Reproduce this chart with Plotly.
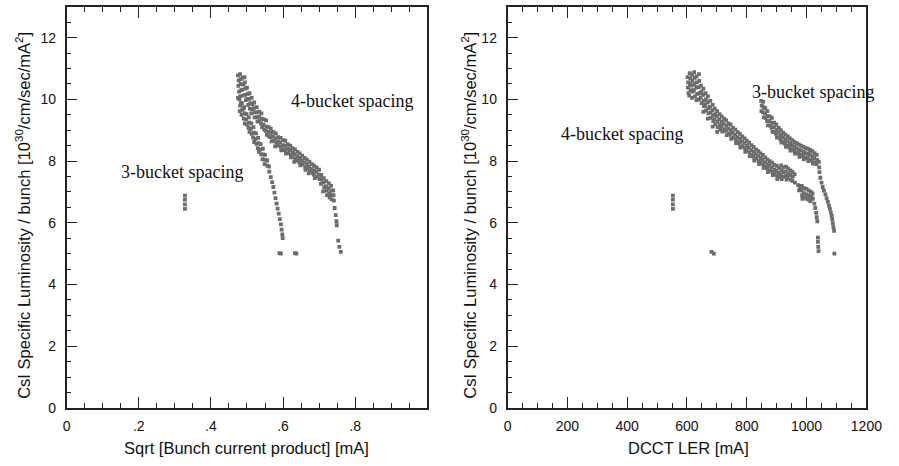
import plotly.graph_objects as go

# ---- left panel: specific luminosity vs sqrt of bunch current product ----
# 4-bucket spacing, upper branch (one line per x column)
lu_x = [0.475, 0.477, 0.476, 0.478, 0.475,
        0.481, 0.483, 0.482, 0.484, 0.481, 0.483,
        0.488, 0.490, 0.487, 0.489, 0.491,
        0.494, 0.496, 0.495, 0.497, 0.493,
        0.500, 0.502, 0.501, 0.503,
        0.507, 0.506, 0.509, 0.508,
        0.513, 0.515, 0.514, 0.512,
        0.520, 0.519, 0.522, 0.521,
        0.527, 0.526, 0.528, 0.529,
        0.534, 0.533, 0.535,
        0.540, 0.541, 0.539, 0.542,
        0.547, 0.546, 0.548,
        0.553, 0.554, 0.552, 0.555,
        0.560, 0.559, 0.561,
        0.566, 0.567, 0.565, 0.568,
        0.573, 0.572, 0.574,
        0.580, 0.579, 0.581, 0.578,
        0.586, 0.587, 0.585,
        0.593, 0.592, 0.594, 0.595,
        0.600, 0.599, 0.601,
        0.606, 0.607, 0.605, 0.608,
        0.613, 0.612, 0.614,
        0.620, 0.619, 0.621, 0.622,
        0.626, 0.627, 0.625,
        0.633, 0.632, 0.634, 0.631,
        0.640, 0.639, 0.641,
        0.646, 0.647, 0.645, 0.648,
        0.653, 0.652, 0.654,
        0.660, 0.659, 0.661, 0.662,
        0.666, 0.667, 0.665,
        0.673, 0.672, 0.674, 0.671,
        0.680, 0.679, 0.681,
        0.686, 0.687, 0.685, 0.688,
        0.693, 0.692, 0.694,
        0.700, 0.699, 0.701,
        0.706, 0.707, 0.705,
        0.713, 0.712, 0.714, 0.711,
        0.720, 0.719, 0.721, 0.722,
        0.727, 0.726, 0.728, 0.729,
        0.733, 0.734, 0.732, 0.735,
        0.739, 0.740, 0.741,
        0.743, 0.746, 0.748, 0.749, 0.753, 0.756, 0.760]
lu_y = [10.78, 10.62, 10.44, 10.25, 10.05,
        10.82, 10.66, 10.50, 10.30, 10.10, 9.88,
        10.70, 10.48, 10.32, 10.12, 9.70,
        10.55, 10.35, 10.15, 9.98, 10.72,
        10.38, 10.18, 10.02, 9.82,
        10.20, 10.02, 9.88, 9.70,
        10.05, 9.85, 9.68, 9.55,
        9.90, 9.72, 9.58, 9.42,
        9.75, 9.58, 9.42, 9.28,
        9.60, 9.44, 9.30,
        9.55, 9.38, 9.22, 9.10,
        9.35, 9.18, 9.02,
        9.32, 9.12, 8.98, 8.85,
        9.10, 8.95, 8.80,
        9.05, 8.92, 8.78, 8.64,
        8.95, 8.80, 8.66,
        8.90, 8.74, 8.60, 8.48,
        8.78, 8.64, 8.50,
        8.75, 8.60, 8.46, 8.35,
        8.68, 8.52, 8.38,
        8.66, 8.50, 8.36, 8.24,
        8.55, 8.40, 8.26,
        8.50, 8.36, 8.22, 8.12,
        8.42, 8.28, 8.14,
        8.38, 8.22, 8.08, 7.98,
        8.30, 8.15, 8.02,
        8.25, 8.10, 7.96, 7.86,
        8.18, 8.02, 7.90,
        8.10, 7.96, 7.82, 7.72,
        8.05, 7.90, 7.76,
        7.98, 7.82, 7.70, 7.60,
        7.90, 7.75, 7.62,
        7.85, 7.70, 7.56, 7.45,
        7.80, 7.65, 7.50,
        7.72, 7.56, 7.42,
        7.55, 7.40, 7.26,
        7.45, 7.30, 7.15, 7.02,
        7.35, 7.18, 7.04, 6.90,
        7.28, 7.12, 6.96, 6.82,
        7.20, 7.04, 6.90, 6.76,
        7.05, 6.90, 6.72,
        6.48, 6.25, 6.05, 5.92, 5.42, 5.22, 5.06]

# lower, steeper branch
ll_x = [0.479, 0.481, 0.480,
        0.486, 0.487, 0.485,
        0.492, 0.493, 0.491, 0.494,
        0.499, 0.498, 0.500,
        0.505, 0.506, 0.504, 0.507,
        0.512, 0.511, 0.513,
        0.518, 0.519, 0.517, 0.520,
        0.525, 0.524, 0.526,
        0.531, 0.532, 0.530, 0.533,
        0.538, 0.537, 0.539,
        0.544, 0.545, 0.543,
        0.550, 0.551, 0.549,
        0.556, 0.557,
        0.561, 0.562,
        0.566, 0.570, 0.573, 0.576, 0.579, 0.582, 0.585, 0.588, 0.591, 0.594,
        0.596, 0.598, 0.599,
        0.590, 0.594, 0.633, 0.637]
ll_y = [10.00, 9.80, 9.62,
        9.88, 9.66, 9.50,
        9.75, 9.55, 9.38, 9.22,
        9.52, 9.35, 9.18,
        9.42, 9.25, 9.08, 8.95,
        9.22, 9.05, 8.88,
        9.10, 8.92, 8.76, 8.62,
        8.90, 8.72, 8.56,
        8.75, 8.58, 8.42, 8.30,
        8.55, 8.38, 8.22,
        8.40, 8.22, 8.06,
        8.20, 8.04, 7.90,
        8.02, 7.85,
        7.82, 7.66,
        7.48, 7.32, 7.16, 6.98, 6.80, 6.62, 6.46, 6.30, 6.12, 5.95,
        5.78, 5.62, 5.50,
        5.02, 5.00, 5.02, 5.00]

# 3-bucket spacing points
l3_x = [0.328, 0.328, 0.328, 0.328]
l3_y = [6.45, 6.60, 6.75, 6.88]

# ---- right panel: specific luminosity vs DCCT LER current ----
# 4-bucket spacing
r4_x = [602, 604, 603, 605,
        609, 611, 610, 612, 608,
        617, 618, 616, 619, 617,
        624, 626, 625, 623, 627,
        632, 633, 631, 634, 632,
        640, 641, 639, 642, 640,
        647, 648, 646, 649,
        655, 654, 656, 657, 655,
        662, 663, 661, 664,
        670, 669, 671, 672, 670,
        678, 677, 679, 680,
        686, 685, 687, 688, 686,
        693, 694, 692, 695,
        701, 700, 702, 703, 701,
        709, 708, 710, 711,
        716, 717, 715, 718,
        724, 723, 725,
        731, 732, 730, 733,
        739, 738, 740,
        746, 747, 745, 748,
        754, 753, 755,
        762, 761, 763, 764,
        770, 769, 771,
        777, 778, 776, 779,
        785, 784, 786,
        793, 792, 794, 795,
        800, 801, 799,
        808, 807, 809, 810,
        816, 815, 817,
        823, 824, 822, 825,
        831, 830, 832,
        839, 838, 840, 841,
        846, 847, 845,
        854, 853, 855, 856,
        862, 861, 863,
        869, 870, 868, 871,
        877, 876, 878,
        885, 884, 886, 887,
        892, 893, 891,
        900, 899, 901, 902,
        908, 907, 909,
        915, 916, 914, 917,
        923, 922, 924,
        931, 930, 932, 933,
        938, 939, 937,
        946, 945, 947,
        953, 954, 952,
        960, 961,
        972, 975, 978,
        984, 983, 985, 986,
        992, 991, 993,
        999, 1000, 1001,
        1007, 1006, 1008,
        1014, 1015, 1013,
        1020, 1021,
        1026, 1029, 1032, 1034, 1036, 1038, 1038, 1039, 1040]
r4_y = [10.72, 10.55, 10.38, 10.20,
        10.85, 10.68, 10.50, 10.30, 10.12,
        10.80, 10.62, 10.45, 10.25, 10.05,
        10.88, 10.70, 10.50, 10.30, 10.10,
        10.75, 10.55, 10.38, 10.18, 9.98,
        10.82, 10.60, 10.40, 10.20, 10.00,
        10.45, 10.25, 10.06, 9.88,
        10.35, 10.15, 9.95, 9.78, 9.60,
        10.20, 10.00, 9.82, 9.64,
        10.10, 9.90, 9.72, 9.55, 9.38,
        9.95, 9.76, 9.58, 9.40,
        9.82, 9.65, 9.48, 9.30, 9.12,
        9.70, 9.52, 9.35, 9.18,
        9.62, 9.45, 9.28, 9.10, 8.95,
        9.52, 9.35, 9.18, 9.02,
        9.45, 9.28, 9.12, 8.96,
        9.38, 9.20, 9.04,
        9.32, 9.15, 8.98, 8.84,
        9.22, 9.05, 8.90,
        9.18, 9.00, 8.85, 8.72,
        9.08, 8.92, 8.76,
        9.02, 8.86, 8.70, 8.58,
        8.94, 8.78, 8.62,
        8.88, 8.72, 8.56, 8.44,
        8.80, 8.64, 8.48,
        8.74, 8.58, 8.42, 8.30,
        8.66, 8.50, 8.35,
        8.60, 8.44, 8.28, 8.16,
        8.52, 8.36, 8.20,
        8.46, 8.30, 8.14, 8.02,
        8.38, 8.22, 8.08,
        8.32, 8.16, 8.00, 7.90,
        8.25, 8.10, 7.95,
        8.20, 8.04, 7.90, 7.78,
        8.12, 7.96, 7.82,
        8.05, 7.90, 7.76, 7.64,
        8.00, 7.85, 7.70,
        7.95, 7.80, 7.65, 7.55,
        7.88, 7.72, 7.58,
        7.85, 7.68, 7.54, 7.42,
        7.78, 7.62, 7.48,
        7.86, 7.70, 7.55, 7.42,
        7.80, 7.64, 7.50,
        7.82, 7.66, 7.52, 7.40,
        7.76, 7.60, 7.46,
        7.70, 7.55, 7.40,
        7.65, 7.50, 7.36,
        7.58, 7.30,
        7.22, 7.05, 7.15,
        7.20, 7.05, 6.90, 6.78,
        7.12, 6.96, 6.82,
        7.10, 6.92, 6.78,
        7.05, 6.88, 6.74,
        7.00, 6.85, 6.70,
        6.95, 6.78,
        6.62, 6.48, 6.32, 6.18, 6.05, 5.52, 5.38, 5.22, 5.08]

# 3-bucket spacing
r3_x = [848, 850, 849,
        855, 856, 854, 857,
        862, 861, 863,
        869, 870, 868, 871,
        877, 876, 878,
        884, 885, 883, 886,
        892, 891, 893,
        899, 900, 898, 901,
        907, 906, 908,
        914, 915, 913, 916,
        922, 921, 923,
        929, 930, 928, 931,
        937, 936, 938,
        944, 945, 943, 946,
        952, 951, 953,
        959, 960, 958, 961,
        967, 966, 968,
        974, 975, 973, 976,
        982, 981, 983,
        989, 990, 988, 991,
        997, 996, 998,
        1004, 1005, 1003, 1006,
        1012, 1011, 1013,
        1019, 1020, 1018, 1021,
        1027, 1026, 1028,
        1034, 1035, 1033,
        1041, 1042, 1043,
        1046, 1050, 1054, 1058, 1063, 1067, 1071, 1075, 1078, 1081, 1084,
        1086, 1088, 1090, 1092, 1093]
r3_y = [9.95, 9.80, 9.62,
        9.92, 9.75, 9.58, 9.42,
        9.72, 9.55, 9.40,
        9.62, 9.46, 9.30, 9.16,
        9.45, 9.30, 9.15,
        9.40, 9.24, 9.08, 8.95,
        9.25, 9.10, 8.95,
        9.18, 9.02, 8.88, 8.76,
        9.08, 8.92, 8.78,
        9.00, 8.85, 8.70, 8.60,
        8.92, 8.76, 8.62,
        8.86, 8.70, 8.56, 8.46,
        8.80, 8.64, 8.50,
        8.74, 8.58, 8.44, 8.34,
        8.68, 8.52, 8.38,
        8.62, 8.48, 8.34, 8.24,
        8.58, 8.42, 8.28,
        8.54, 8.38, 8.24, 8.14,
        8.50, 8.34, 8.20,
        8.46, 8.30, 8.16, 8.06,
        8.42, 8.26, 8.12,
        8.40, 8.24, 8.10, 8.00,
        8.36, 8.20, 8.05,
        8.32, 8.16, 8.02, 7.92,
        8.26, 8.10, 7.96,
        8.20, 8.04, 7.90,
        7.98, 7.80, 7.64,
        7.46, 7.30, 7.16, 7.04, 6.92, 6.80, 6.68, 6.56, 6.45, 6.34, 6.22,
        6.10, 5.98, 5.86, 5.74, 5.00]

# isolated low-current points
rs_x = [553, 553, 553, 553, 682, 690]
rs_y = [6.45, 6.60, 6.75, 6.88, 5.06, 5.00]

left_ticks = [0, 0.2, 0.4, 0.6, 0.8]
left_ticktext = ["0", ".2", ".4", ".6", ".8"]
y_ticks = [0, 2, 4, 6, 8, 10, 12]

MARK = dict(symbol="square", size=3.8, color="#6c6c6c", line=dict(width=0))

fig = go.Figure()
for xs, ys in [(lu_x, lu_y), (ll_x, ll_y), (l3_x, l3_y)]:
    fig.add_trace(go.Scatter(x=xs, y=ys, mode="markers", marker=MARK,
                             xaxis="x", yaxis="y", showlegend=False))
for xs, ys in [(r4_x, r4_y), (r3_x, r3_y), (rs_x, rs_y)]:
    fig.add_trace(go.Scatter(x=xs, y=ys, mode="markers", marker=MARK,
                             xaxis="x2", yaxis="y2", showlegend=False))

W, H = 899, 466
TICKFONT = dict(family="Liberation Sans, Arial, sans-serif", size=14, color="#111")
common = dict(showgrid=False, zeroline=False, showline=True, linecolor="#222",
              linewidth=1.6, ticks="inside", tickcolor="#222", tickwidth=1.2,
              ticklen=11, tickfont=TICKFONT)
minor_x = dict(ticks="inside", ticklen=5, tickcolor="#222", tickwidth=1)

yd = [51 / H, 459 / H]
fig.update_layout(
    width=W, height=H, margin=dict(l=0, r=0, t=0, b=0),
    paper_bgcolor="white", plot_bgcolor="white",
    xaxis=dict(domain=[64 / W, 433 / W], range=[0, 1.0], anchor="y",
               tickmode="array", tickvals=left_ticks, ticktext=left_ticktext,
               mirror="ticks", ticklabelstandoff=5,
               minor=dict(dtick=0.05, tick0=0, **minor_x), **common),
    yaxis=dict(domain=yd, range=[0, 13], anchor="x",
               tickmode="array", tickvals=y_ticks, mirror=True, ticklabelstandoff=6,
               minor=dict(dtick=0.5, tick0=0, **minor_x), **common),
    xaxis2=dict(domain=[515 / W, 882 / W], range=[0, 1200], anchor="y2",
                tickmode="linear", dtick=200, tick0=0,
                mirror="ticks", ticklabelstandoff=5,
                minor=dict(dtick=50, tick0=0, **minor_x), **common),
    yaxis2=dict(domain=yd, range=[0, 13], anchor="x2",
                tickmode="array", tickvals=y_ticks, mirror=True, ticklabelstandoff=6,
                minor=dict(dtick=0.5, tick0=0, **minor_x), **common),
)

TITLEFONT = dict(family="Liberation Sans, Arial, sans-serif", size=16.5, color="#111")
ytitle = "CsI Specific Luminosity / bunch [10<sup>30</sup>/cm/sec/mA<sup>2</sup>]"
axis_titles = [
    dict(text="Sqrt [Bunch current product] [mA]", x=248 / W, y=(H - 456) / H, textangle=0),
    dict(text="DCCT LER [mA]", x=700 / W, y=(H - 456) / H, textangle=0),
    dict(text=ytitle, x=20 / W, y=(H - 219) / H, textangle=-90),
    dict(text=ytitle, x=476 / W, y=(H - 219) / H, textangle=-90),
]
for t in axis_titles:
    fig.add_annotation(xref="paper", yref="paper", showarrow=False,
                       xanchor="center", yanchor="middle", font=TITLEFONT, **t)

SERIF = dict(family="Liberation Serif, Times New Roman, serif", size=18, color="#111")
labels = [
    ("x", "y", 0.791, 9.94, "4-bucket spacing"),
    ("x", "y", 0.319, 7.64, "3-bucket spacing"),
    ("x2", "y2", 384, 8.89, "4-bucket spacing"),
    ("x2", "y2", 1023, 10.25, "3-bucket spacing"),
]
for xr, yr, xv, yv, txt in labels:
    fig.add_annotation(xref=xr, yref=yr, x=xv, y=yv, text=txt, showarrow=False,
                       xanchor="center", yanchor="middle", font=SERIF)

fig.write_html("out.html")
